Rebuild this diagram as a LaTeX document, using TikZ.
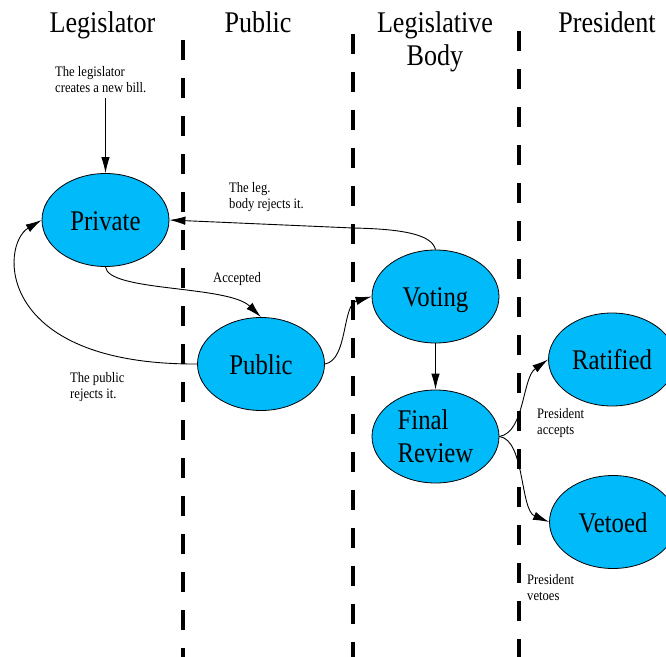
\documentclass[tikz,border=0pt]{standalone}
\usepackage{fontspec}
\setmainfont{Liberation Serif}[FakeStretch=0.87]
\usetikzlibrary{shapes.geometric,arrows.meta}
\definecolor{bill}{RGB}{0,186,250}
\begin{document}
\begin{tikzpicture}[x=1pt,y=-1pt,
  state/.style={ellipse,draw=black,line width=0.8pt,fill=bill,minimum width=127pt,minimum height=93pt,inner sep=0pt,font=\fontsize{28.5}{33}\selectfont},
  one/.style={text height=26pt,text depth=6pt},
  lane/.style={line width=4.5pt,dash pattern=on 20pt off 18pt},
  head/.style={font=\fontsize{30}{33}\selectfont,align=center,anchor=north,inner sep=0pt},
  note/.style={font=\fontsize{14.5}{16.5}\selectfont,align=left,anchor=north west,inner sep=0pt},
  flow/.style={line width=0.9pt,-{Latex[length=16pt,width=8.5pt]}}]
\useasboundingbox (0,0) rectangle (666,656);
\clip (0,0) rectangle (666,656);
% lane dividers
\draw[lane] (183,40) -- (183,660);
\draw[lane] (353,34) -- (353,660);
\draw[lane] (519,31) -- (519,660);
% headers
\node[head] (hleg) at (102.5,11.5) {Legislator};
\node[head] (hpub) at (258,11.5) {Public};
\node[head] (hbody) at (435,11.5) {Legislative\\Body};
\node[head] (hpres) at (607,11.5) {President};
% states
\node[state,one] (priv) at (105.5,220) {Private};
\node[state,one] (pub) at (261,364) {Public};
\node[state,one] (vot) at (435.5,296.5) {Voting};
\node[state,align=left] (fin) at (435.5,436.5) {Final\\Review};
\node[state,one] (rat) at (612,359.5) {Ratified};
\node[state,one] (vet) at (613,522) {Vetoed};
% notes
\node[note] (n1) at (55,66.1) {The legislator\\creates a new bill.};
\node[note] (n2) at (229,182.1) {The leg.\\body rejects it.};
\node[note] (n3) at (213,272.1) {Accepted};
\node[note] (n4) at (70,372.1) {The public\\rejects it.};
\node[note] (n5) at (537,408.1) {President\\accepts};
\node[note] (n6) at (527,574.1) {President\\vetoes};
% connectors
\coordinate (start) at (105.5,98);
\draw[flow] (start) -- (priv.north);
\draw[flow] (vot.north) .. controls (432,235) and (405,229) .. (353,228) -- (priv.east);
\draw[flow] (priv.south) .. controls (108,292) and (228,285) .. (pub.north);
\draw[flow] (pub.west) .. controls (-5,365) and (0,245) .. (priv.west);
\draw[flow] (pub.east) .. controls (348,360) and (342,305) .. (vot.west);
\draw[flow] (vot.south) -- (fin.north);
\draw[flow] (fin.east) .. controls (525,432) and (522,378) .. (rat.west);
\draw[flow] (fin.east) .. controls (525,440) and (520,510) .. (vet.west);
\end{tikzpicture}
\end{document}
